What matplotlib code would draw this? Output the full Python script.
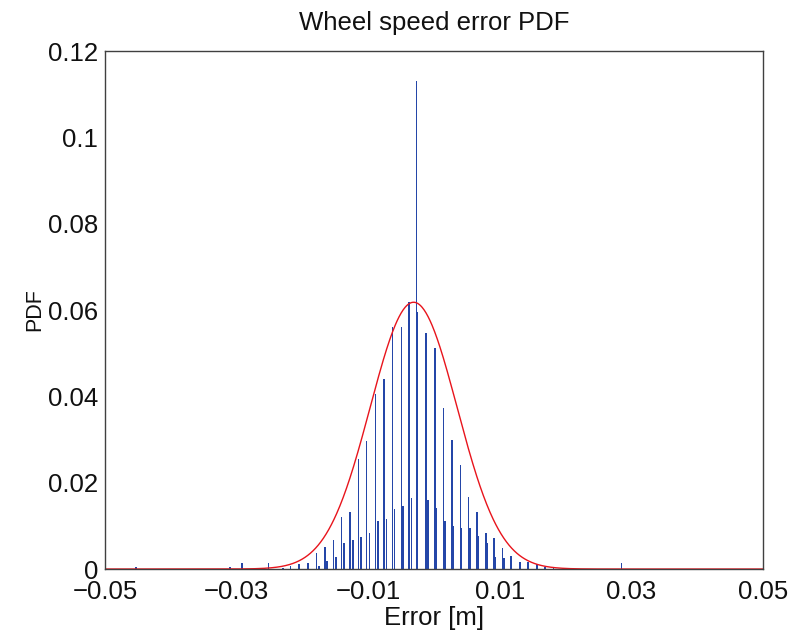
import numpy as np
import matplotlib
matplotlib.use("Agg")
import matplotlib.pyplot as plt

plt.rcParams['font.family'] = ['Liberation Sans', 'DejaVu Sans']

# Main (tall) bars: error position [m] and PDF value
main_x = [-0.02518, -0.02299, -0.02178, -0.02052, -0.01919, -0.01789, -0.01661,
          -0.01530, -0.01406, -0.01277, -0.01150, -0.01023, -0.00892, -0.00760,
          -0.00628, -0.00497, -0.00380, -0.00269, -0.00122, 0.00011, 0.00141,
          0.00269, 0.00400, 0.00522, 0.00649, 0.00786, 0.00912, 0.01038,
          0.01170, 0.01307, 0.01433, 0.01560, 0.01687, 0.01813]
main_y = [0.0013, 0.0003, 0.0007, 0.0012, 0.0014, 0.0037, 0.0051,
          0.0067, 0.0120, 0.0131, 0.0256, 0.0297, 0.0405, 0.0440,
          0.0561, 0.0561, 0.0618, 0.1131, 0.0547, 0.0512, 0.0373,
          0.0298, 0.0240, 0.0167, 0.0131, 0.0083, 0.0073, 0.0049,
          0.0030, 0.0017, 0.0014, 0.0008, 0.0005, 0.0003]

# Secondary (short) bars right next to the main ones
sec_x = [-0.01750, -0.01622, -0.01490, -0.01365, -0.01235, -0.01110, -0.00980,
         -0.00850, -0.00723, -0.00598, -0.00475, -0.00340, -0.00248, -0.00095,
         0.00035, 0.00163, 0.00285, 0.00411, 0.00543, 0.00674, 0.00801,
         0.00935, 0.01062, 0.01178, 0.01305, 0.01431, 0.01568]
sec_y = [0.0008, 0.0019, 0.0028, 0.0061, 0.0067, 0.0074, 0.0084,
         0.0112, 0.0115, 0.0139, 0.0147, 0.0164, 0.0596, 0.0159,
         0.0141, 0.0111, 0.0100, 0.0096, 0.0096, 0.0077, 0.0060,
         0.0028, 0.0026, 0.0023, 0.0009, 0.0017, 0.0011]

# Isolated outliers far in the tails
out_x = [-0.04528, -0.03100, -0.02918, 0.02850]
out_y = [0.0005, 0.0005, 0.0013, 0.0013]

# Fitted normal curve parameters
fit_mu = -0.0031
fit_sigma = 0.0066
fit_peak = 0.0618

x_ticks = [-0.05, -0.03, -0.01, 0.01, 0.03, 0.05]
x_tick_labels = ['\u22120.05', '\u22120.03', '\u22120.01', '0.01', '0.03', '0.05']
y_ticks = [0, 0.02, 0.04, 0.06, 0.08, 0.1, 0.12]
y_tick_labels = ['0', '0.02', '0.04', '0.06', '0.08', '0.1', '0.12']

fig = plt.figure(figsize=(7.92, 6.36), dpi=100)
ax = fig.add_axes([0.1326, 0.1053, 0.9634 - 0.1326, 0.9198 - 0.1053])

blue = '#2446a8'
bw = 0.00024
ax.bar(main_x, main_y, width=bw, color=blue, linewidth=0)
ax.bar(sec_x, sec_y, width=bw, color=blue, linewidth=0)
ax.bar(out_x, out_y, width=bw, color=blue, linewidth=0)

xc = np.linspace(-0.05, 0.05, 1001)
yc = fit_peak * np.exp(-0.5 * ((xc - fit_mu) / fit_sigma) ** 2)
ax.plot(xc, yc, color='#e8141c', linewidth=1.0)

ax.set_xlim(-0.05, 0.05)
ax.set_ylim(0, 0.12)
ax.set_xticks(x_ticks)
ax.set_xticklabels(x_tick_labels)
ax.set_yticks(y_ticks)
ax.set_yticklabels(y_tick_labels)
ax.tick_params(direction='in', length=0, labelsize=18.5,
               labelcolor='#111111')
ax.tick_params(axis='x', pad=8)
ax.tick_params(axis='y', pad=5)
for s in ax.spines.values():
    s.set_color('#404040')
    s.set_linewidth(1.0)

ax.set_title('Wheel speed error PDF', fontsize=18.5, pad=15, color='#111111')
ax.set_xlabel('Error [m]', fontsize=18.5, color='#111111')
ax.set_ylabel('PDF', fontsize=15.5, color='#111111')
ax.xaxis.set_label_coords(0.5, -0.072)
ax.yaxis.set_label_coords(-0.091, 0.5)

fig.savefig('out.png', dpi=100, facecolor='white')
